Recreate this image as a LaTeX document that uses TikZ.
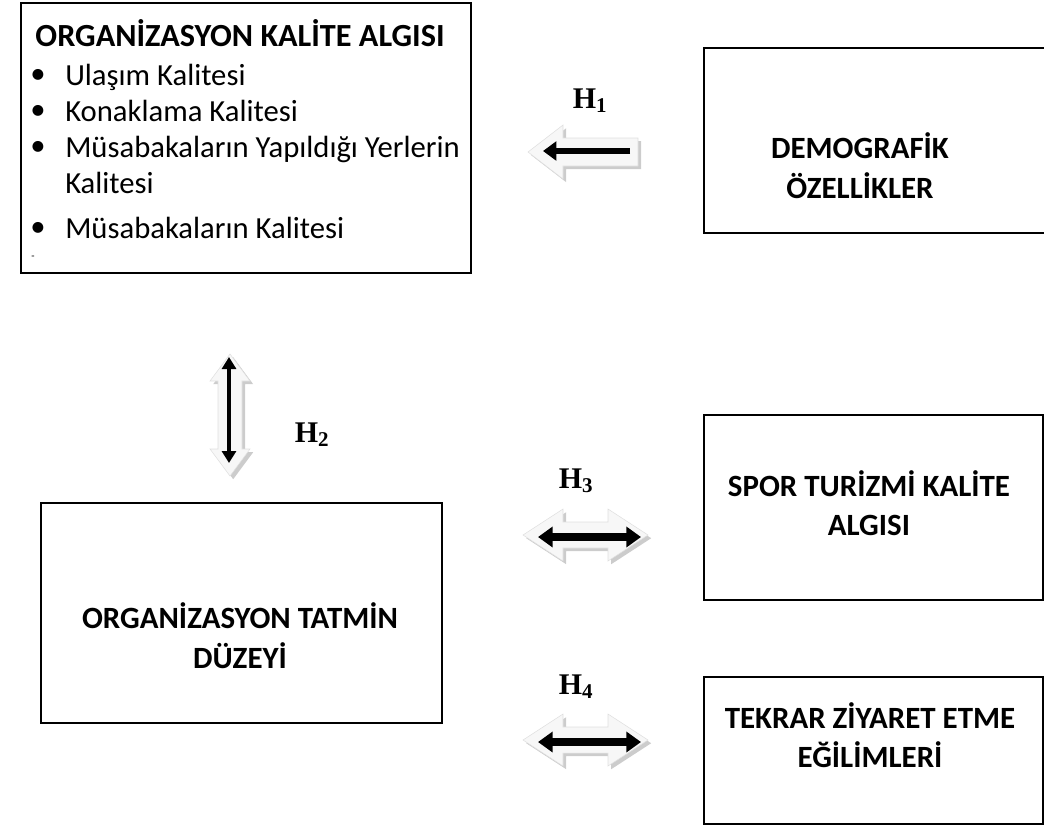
\documentclass[tikz,border=0pt]{standalone}
\usepackage{fontspec}
\setmainfont{Carlito}
\newfontfamily\hfont{Liberation Serif}
\usetikzlibrary{arrows.meta,shadows}

\tikzset{
  box/.style={draw,line width=1.6pt,fill=white,anchor=north west,
    drop shadow={shadow xshift=0.8pt,shadow yshift=-0.8pt,fill=gray!60,opacity=1}},
  title/.style={font=\fontsize{23.2}{27}\selectfont\bfseries,inner sep=0pt,anchor=base},
  item/.style={anchor=base west,inner sep=0pt},
  blok/.style={fill=gray!6,draw=gray!25,line width=0.4pt,
    drop shadow={shadow xshift=2.4pt,shadow yshift=-2.4pt,fill=gray!40,opacity=1}},
  ok/.style={line width=#1,draw=black},
  hyp/.style={font=\hfont\fontsize{22.5}{27}\selectfont\bfseries,inner sep=0pt,anchor=base}
}

\begin{document}
\begin{tikzpicture}[x=0.75pt,y=-0.75pt,font=\fontsize{23}{27}\selectfont]
    \useasboundingbox (0,0) rectangle (1044,825);

    % boxes
    \node[box,minimum width=337.5pt,minimum height=202.5pt] (kalite) at (20,2) {};
    \node[box,minimum width=267.75pt,minimum height=138.75pt] (demo) at (703,47) {};
    \node[box,minimum width=300.75pt,minimum height=165pt] (tatmin) at (40,502) {};
    \node[box,minimum width=254.25pt,minimum height=138.75pt] (spor) at (703,414) {};
    \node[box,minimum width=254.25pt,minimum height=110.25pt] (tekrar) at (703,676) {};

    % organizasyon kalite algisi
    \node[title,font=\fontsize{24.2}{27}\selectfont\bfseries] (kbaslik) at (240,46) {ORGANİZASYON KALİTE ALGISI};
    \foreach \y/\t [count=\i] in {75/Ulaşım Kalitesi,111/Konaklama Kalitesi,
        147/Müsabakaların Yapıldığı Yerlerin,228/Müsabakaların Kalitesi} {
      \node[inner sep=0pt] (b\i) at (38,\y+1) {•};
      \node[item] (m\i) at (65,\y+10) {\t};
    }
    \node[item] (m3b) at (65,193) {Kalitesi};
    \node[inner sep=0pt,font=\fontsize{8}{9}\selectfont] (cizgi) at (33,258) {-};

    % other boxes text
    \node[title] (demo1) at (860,158) {DEMOGRAFİK};
    \node[title] (demo2) at (860,198) {ÖZELLİKLER};
    \node[title] (tat1) at (240,628) {ORGANİZASYON TATMİN};
    \node[title] (tat2) at (240,668) {DÜZEYİ};
    \node[title] (spor1) at (869,496) {SPOR TURİZMİ KALİTE};
    \node[title] (spor2) at (869,535) {ALGISI};
    \node[title] (tek1) at (870,728) {TEKRAR ZİYARET ETME};
    \node[title] (tek2) at (870,767) {EĞİLİMLERİ};

    % hypotheses
    \node[hyp] (h1) at (590,108) {H\textsubscript{1}};
    \node[hyp] (h2) at (312,442) {H\textsubscript{2}};
    \node[hyp] (h3) at (576,488) {H\textsubscript{3}};
    \node[hyp] (h4) at (576,694) {H\textsubscript{4}};

    % block arrows
    \path[blok] (528,152) -- (563,125) -- (563,138) -- (638,138) -- (638,166)
      -- (563,166) -- (563,179) -- cycle;
    \path[blok] (230,354) -- (250,381) -- (242,381) -- (242,449) -- (250,449)
      -- (230,476) -- (210,449) -- (218,449) -- (218,381) -- (210,381) -- cycle;
    \foreach \c in {535,740} {
      \path[blok] (523,\c) -- (563,\c-26) -- (563,\c-13) -- (608,\c-13) -- (608,\c-26)
        -- (648,\c) -- (608,\c+26) -- (608,\c+13) -- (563,\c+13) -- (563,\c+26) -- cycle;
    }

    % black arrows
    \coordinate (a1) at (630,151);
    \coordinate (a1') at (543,151);
    \coordinate (a2) at (229,357);
    \coordinate (a2') at (229,463);
    \coordinate (a3) at (538,537);
    \coordinate (a3') at (641,537);
    \coordinate (a4) at (538,742);
    \coordinate (a4') at (641,742);
    \draw[ok=5.2pt,-{Triangle[length=10pt,width=14pt]}] (a1) -- (a1');
    \draw[ok=3pt,{Triangle[length=9pt,width=10.5pt]}-{Triangle[length=9pt,width=10.5pt]}] (a2) -- (a2');
    \draw[ok=6pt,{Triangle[length=11pt,width=15pt]}-{Triangle[length=11pt,width=15pt]}] (a3) -- (a3');
    \draw[ok=6pt,{Triangle[length=11pt,width=15pt]}-{Triangle[length=11pt,width=15pt]}] (a4) -- (a4');
  \end{tikzpicture}
\end{document}
